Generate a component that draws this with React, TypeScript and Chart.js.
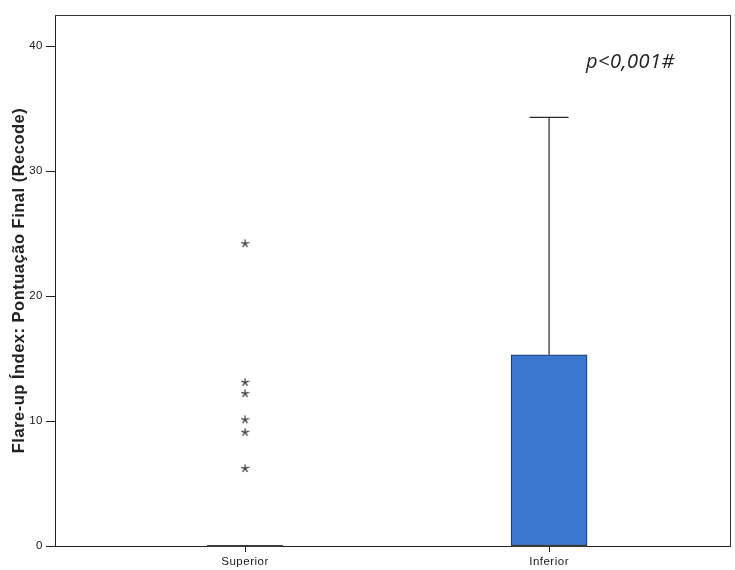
import React, { useEffect, useRef } from "react";
import { Chart, registerables } from "chart.js";

Chart.register(...registerables);

// Box plot summary per group
const categories = ["Superior", "Inferior"];
const boxLow = [0, 0]; // first quartile
const boxHigh = [0, 15.3]; // third quartile
const medians = [0, 0];
const whiskerLow = [0, 0];
const whiskerHigh = [0, 34.3];

// Extreme values (group index, value)
const outlierGroup = [0, 0, 0, 0, 0, 0];
const outlierValues = [24.2, 13.1, 12.2, 10.1, 9.1, 6.2];

const yTicks = [0, 10, 20, 30, 40];
const yMax = 42.5;
const yTitle = "Flare-up Índex: Pontuação Final (Recode)";
const pText = "p<0,001#";

const BOX_WIDTH = 76;
const CAP_WIDTH = 39;
const SANS = "'Liberation Sans', Arial, sans-serif";

function makeAsterisk(): HTMLCanvasElement {
  const c = document.createElement("canvas");
  c.width = 9;
  c.height = 9;
  const g = c.getContext("2d")!;
  g.strokeStyle = "#2a2a2a";
  g.lineWidth = 1.2;
  g.lineCap = "round";
  for (let k = 0; k < 5; k++) {
    const a = -Math.PI / 2 + (k * 2 * Math.PI) / 5;
    g.beginPath();
    g.moveTo(4.5, 4.5);
    g.lineTo(4.5 + 3.6 * Math.cos(a), 4.5 + 3.6 * Math.sin(a));
    g.stroke();
  }
  return c;
}

// Slightly wider text spacing for every label on the canvas
const spacingPlugin = {
  id: "textSpacing",
  beforeDraw(chart: any) {
    (chart.ctx as any).letterSpacing = "0.5px";
  },
};

// Whiskers, caps and median lines, placed through the chart scales
const boxPlotPlugin = {
  id: "boxPlotExtras",
  afterDatasetsDraw(chart: any) {
    const { ctx } = chart;
    const xs = chart.scales.x;
    const ys = chart.scales.y;
    ctx.save();
    ctx.strokeStyle = "#2b2b2b";
    categories.forEach((_, i) => {
      const xc = xs.getPixelForValue(i);
      ctx.lineWidth = 1.2;
      if (whiskerHigh[i] > boxHigh[i]) {
        const yTop = ys.getPixelForValue(whiskerHigh[i]);
        ctx.beginPath();
        ctx.moveTo(xc, ys.getPixelForValue(boxHigh[i]));
        ctx.lineTo(xc, yTop);
        ctx.moveTo(xc - CAP_WIDTH / 2, yTop);
        ctx.lineTo(xc + CAP_WIDTH / 2, yTop);
        ctx.stroke();
      }
      if (whiskerLow[i] < boxLow[i]) {
        const yBot = ys.getPixelForValue(whiskerLow[i]);
        ctx.beginPath();
        ctx.moveTo(xc, ys.getPixelForValue(boxLow[i]));
        ctx.lineTo(xc, yBot);
        ctx.moveTo(xc - CAP_WIDTH / 2, yBot);
        ctx.lineTo(xc + CAP_WIDTH / 2, yBot);
        ctx.stroke();
      }
      const ym = ys.getPixelForValue(medians[i]);
      ctx.lineWidth = 2.2;
      ctx.strokeStyle = "#3a3a3a";
      ctx.beginPath();
      ctx.moveTo(xc - BOX_WIDTH / 2, ym);
      ctx.lineTo(xc + BOX_WIDTH / 2, ym);
      ctx.stroke();
      ctx.strokeStyle = "#2b2b2b";
    });
    ctx.restore();
  },
};

const pValuePlugin = {
  id: "pValueNote",
  afterDraw(chart: any) {
    const { ctx, chartArea } = chart;
    ctx.save();
    ctx.font = "italic 20px 'Open Sans', 'Liberation Sans', sans-serif";
    ctx.fillStyle = "#222";
    ctx.textBaseline = "alphabetic";
    ctx.textAlign = "left";
    ctx.fillText(pText, chartArea.left + 531, chartArea.top + 53);
    ctx.restore();
  },
};

export default function App() {
  const ref = useRef<HTMLCanvasElement | null>(null);

  useEffect(() => {
    if (!ref.current) return;
    const star = makeAsterisk();
    const chart = new Chart(ref.current, {
      type: "bar",
      data: {
        datasets: [
          {
            type: "bar",
            data: categories.map((_, i) => ({ x: i, y: [boxLow[i], boxHigh[i]] })) as any,
            backgroundColor: "#3a78d0",
            borderColor: "#1c2b4a",
            borderWidth: 1,
            borderSkipped: false,
            barThickness: BOX_WIDTH,
            xAxisID: "x",
            yAxisID: "y",
          } as any,
          {
            type: "scatter",
            data: outlierValues.map((v, i) => ({ x: outlierGroup[i], y: v })),
            pointStyle: star,
            pointRadius: 4,
            xAxisID: "x",
            yAxisID: "y",
          } as any,
        ],
      },
      options: {
        responsive: false,
        animation: false,
        events: [],
        layout: { padding: { top: 15, right: 0, left: 0, bottom: 0 } },
        plugins: {
          legend: { display: false },
          tooltip: { enabled: false },
        },
        scales: {
          x: {
            type: "linear",
            position: "bottom",
            offset: false,
            min: -0.625,
            max: 1.595,
            afterBuildTicks: (s: any) => {
              s.ticks = categories.map((_, i) => ({ value: i }));
            },
            afterFit: (s: any) => {
              s.height = 24;
            },
            ticks: {
              callback: (v: any) => categories[v] ?? "",
              font: { family: SANS, size: 11.5 },
              color: "#1a1a1a",
              padding: 3,
              maxRotation: 0,
              autoSkip: false,
            },
            grid: { offset: false, drawOnChartArea: false, drawTicks: true, tickLength: 6, color: "#222" },
            border: { display: true, color: "#222", width: 1 },
          },
          y: {
            type: "linear",
            position: "left",
            min: 0,
            max: yMax,
            afterBuildTicks: (s: any) => {
              s.ticks = yTicks.map((v) => ({ value: v }));
            },
            afterFit: (s: any) => {
              s.width = 55;
            },
            ticks: {
              font: { family: SANS, size: 11.5 },
              color: "#1a1a1a",
              padding: 3,
            },
            grid: { drawOnChartArea: false, drawTicks: true, tickLength: 9, color: "#222" },
            border: { display: true, color: "#222", width: 1 },
            title: {
              display: true,
              text: yTitle,
              color: "#222",
              font: { family: SANS, size: 16.5, weight: "bold" },
              padding: { top: 10, bottom: 0 },
            },
          },
          xTop: {
            type: "linear",
            position: "top",
            ticks: { display: false },
            grid: { drawOnChartArea: false, drawTicks: false },
            border: { display: true, color: "#333", width: 1 },
            afterFit: (s: any) => {
              s.height = 0;
            },
          },
          yRight: {
            type: "linear",
            position: "right",
            ticks: { display: false },
            grid: { drawOnChartArea: false, drawTicks: false },
            border: { display: true, color: "#333", width: 1 },
            afterFit: (s: any) => {
              s.width = 0;
            },
          },
        },
      } as any,
      plugins: [spacingPlugin, boxPlotPlugin, pValuePlugin],
    });
    return () => chart.destroy();
  }, []);

  return (
    <div style={{ position: "fixed", left: 0, top: 0, width: 735, height: 570, background: "#fff" }}>
      <canvas ref={ref} width={735} height={570} style={{ display: "block" }} />
    </div>
  );
}
